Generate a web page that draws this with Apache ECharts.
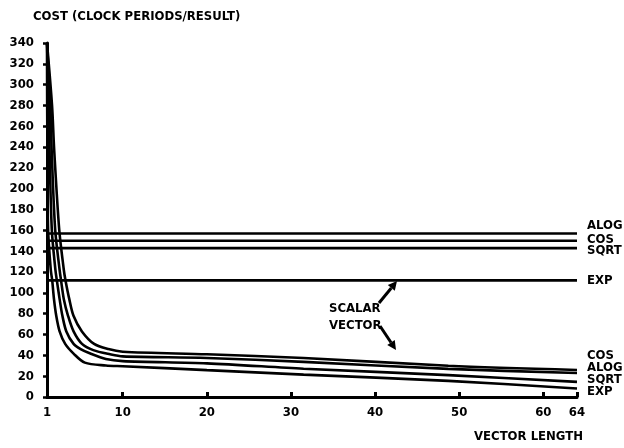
<!DOCTYPE html>
<html>
<head>
<meta charset="utf-8">
<script src="https://cdn.jsdelivr.net/npm/echarts@6/dist/echarts.min.js"></script>
<style>
html,body{margin:0;padding:0;background:#fff;}
#c{width:624px;height:448px;}
</style>
</head>
<body>
<div id="c"></div>
<script>
// ---- data ----
const xTickLabels = [1, 10, 20, 30, 40, 50, 60, 64];
const yMin = 0, yMax = 340, yStep = 20;

const scalarNames = ['ALOG', 'COS', 'SQRT', 'EXP'];
const scalarCost  = [157, 150, 143, 112];

const vectorNames = ['COS', 'ALOG', 'SQRT', 'EXP'];
const vecCOS  = [[1,340],[1.6,280],[1.85,238],[2.45,161],[3.0,122],[3.2,112],[3.65,94],[4.15,78],[5.15,63],[6.6,51],[8.3,46],[10,43.5],[20,41],[31.5,37.5],[48.7,30],[64,26]];
const vecALOG = [[1,340],[1.4,280],[1.55,238],[1.97,161],[2.5,122],[2.67,112],[3.0,94],[3.5,78],[4.16,63],[5.16,51],[6.5,45],[8.5,41],[10,39],[20,37.5],[31.5,33.7],[48.7,27],[64,23]];
const vecSQRT = [[1,340],[1.2,280],[1.3,238],[1.57,161],[2.0,122],[2.17,112],[2.5,94],[2.83,78],[3.3,63],[4.16,51],[5,46],[6.15,41.7],[8,36.5],[10,34.5],[20,32.3],[31.5,27.2],[48.7,21],[64,14.5]];
const vecEXP  = [[1,340],[1.02,280],[1.05,238],[1.13,161],[1.45,122],[1.62,112],[1.83,94],[2.1,78],[2.5,63],[3.16,51],[4.16,41.7],[5.5,33],[8,30.3],[10,29.6],[20,25.8],[31.5,21.5],[48.7,15.5],[64,8.2]];
const vectorData = [vecCOS, vecALOG, vecSQRT, vecEXP];

// ---- styling ----
const FONT = "'DejaVu Sans Condensed','Liberation Sans Narrow',sans-serif";
const scalarLabelDy = [-8, -1, 3, 0];
const vectorLabelDy = [-14, -5, -2, 3];

const chart = echarts.init(document.getElementById('c'), null, {renderer: 'canvas'});

function endLabel(text, dy) {
  return {show: true, distance: 10, offset: [0, dy], formatter: text,
    color: '#000', fontFamily: FONT, fontWeight: 'bold', fontSize: 13, lineHeight: 12};
}

const series = [];
scalarNames.forEach((n, i) => {
  series.push({
    type: 'line', name: 'Scalar ' + n, showSymbol: false, symbol: 'none',
    lineStyle: {color: '#000', width: 2.6}, silent: true,
    endLabel: endLabel(n, scalarLabelDy[i]),
    data: [[xTickLabels[0], scalarCost[i]], [xTickLabels[xTickLabels.length-1], scalarCost[i]]]
  });
});
vectorNames.forEach((n, i) => {
  series.push({
    type: 'line', name: 'Vector ' + n, showSymbol: false, symbol: 'none', smooth: 0.3,
    lineStyle: {color: '#000', width: 2.6}, silent: true,
    endLabel: endLabel(n, vectorLabelDy[i]),
    data: vectorData[i]
  });
});

function arrow(x1, y1, x2, y2) {
  const ang = Math.atan2(y2 - y1, x2 - x1);
  const L = 9, W = 4.5;
  const bx = x2 - L * Math.cos(ang), by = y2 - L * Math.sin(ang);
  const px = -Math.sin(ang) * W, py = Math.cos(ang) * W;
  return [
    {type: 'line', shape: {x1: x1, y1: y1, x2: bx, y2: by}, style: {stroke: '#000', lineWidth: 3}},
    {type: 'polygon', shape: {points: [[x2, y2], [bx + px, by + py], [bx - px, by - py]]}, style: {fill: '#000'}}
  ];
}

const option = {
  backgroundColor: '#fff',
  animation: false,
  grid: {left: 47, right: 47, top: 43, bottom: 51},
  xAxis: {
    type: 'value', min: xTickLabels[0], max: xTickLabels[xTickLabels.length-1],
    axisLine: {lineStyle: {color: '#000', width: 3}},
    axisTick: {show: true, inside: true, length: 5, lineStyle: {color: '#000', width: 3},
      customValues: xTickLabels.slice(1)},
    axisLabel: {customValues: xTickLabels, color: '#000', fontFamily: FONT, fontWeight: 'bold', fontSize: 13, margin: 9},
    splitLine: {show: false}
  },
  yAxis: {
    type: 'value', min: yMin, max: yMax, interval: yStep,
    axisLine: {show: true, lineStyle: {color: '#000', width: 3}},
    axisTick: {show: true, inside: false, length: 4, lineStyle: {color: '#000', width: 2.5}},
    axisLabel: {color: '#000', fontFamily: FONT, fontWeight: 'bold', fontSize: 13, margin: 13},
    splitLine: {show: false}
  },
  graphic: [
    {type: 'text', left: 33, top: 10, style: {text: 'COST (CLOCK PERIODS/RESULT)', fill: '#000', font: 'bold 13px ' + FONT}},
    {type: 'text', right: 41, top: 430, style: {text: 'VECTOR LENGTH', fill: '#000', font: 'bold 13px ' + FONT}},
    {type: 'text', left: 329, top: 302, style: {text: 'SCALAR', fill: '#000', font: 'bold 13px ' + FONT}},
    {type: 'text', left: 329, top: 319, style: {text: 'VECTOR', fill: '#000', font: 'bold 13px ' + FONT}},
    ...arrow(379, 303, 397, 281),
    ...arrow(380, 326, 396, 350)
  ],
  series: series
};
chart.setOption(option);
</script>
</body>
</html>
